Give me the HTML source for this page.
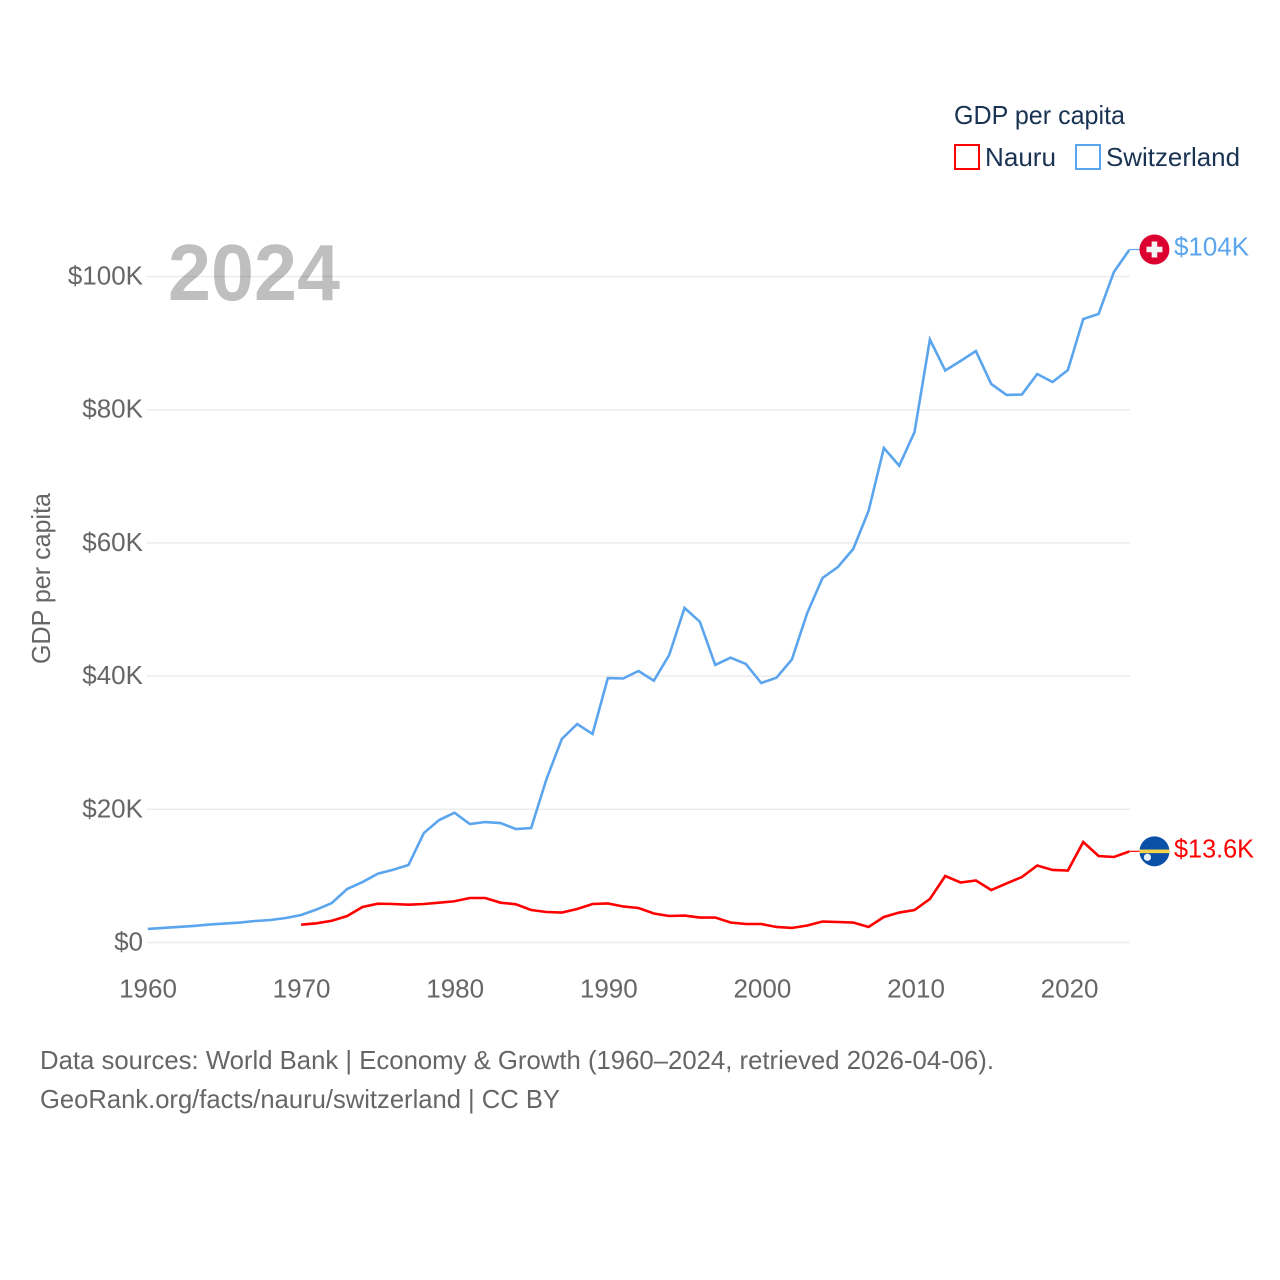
<!DOCTYPE html>
<html lang="en">
<head>
<meta charset="utf-8">
<title>GDP per capita: Nauru and Switzerland</title>
<style>
html,body{margin:0;padding:0;background:#fff;}
svg{display:block;}
text{font-family:"Liberation Sans",sans-serif;}
</style>
</head>
<body>
<svg id="chart" xmlns="http://www.w3.org/2000/svg" width="1280" height="1280" viewBox="0 0 1280 1280">
  <rect x="0" y="0" width="1280" height="1280" fill="#fff"/>
  <g id="grid"></g>
  <g id="yticks"></g>
  <g id="xticks"></g>
  <text transform="translate(50,578.5) rotate(-90)" text-anchor="middle" font-size="26" fill="#666" textLength="171" lengthAdjust="spacingAndGlyphs">GDP per capita</text>
  <text x="168" y="300" font-size="80" font-weight="700" fill="#000" fill-opacity="0.25" textLength="172" lengthAdjust="spacingAndGlyphs">2024</text>
  <g id="series"></g>
  <g id="ends"></g>

  <text x="954" y="124" font-size="26" fill="#1a3353" textLength="171" lengthAdjust="spacingAndGlyphs">GDP per capita</text>
  <g>
    <rect x="955" y="145" width="24" height="24" fill="none" stroke="#ff0000" stroke-width="2"/>
    <text x="985" y="166" font-size="26" fill="#1a3353" textLength="71" lengthAdjust="spacingAndGlyphs">Nauru</text>
  </g>
  <g>
    <rect x="1076" y="145" width="24" height="24" fill="none" stroke="#5ba5ee" stroke-width="2"/>
    <text x="1106" y="166" font-size="26" fill="#1a3353" textLength="134" lengthAdjust="spacingAndGlyphs">Switzerland</text>
  </g>

  <text x="40" y="1069" font-size="26" fill="#666" textLength="954" lengthAdjust="spacingAndGlyphs">Data sources: World Bank | Economy &amp; Growth (1960–2024, retrieved 2026-04-06).</text>
  <text x="40" y="1108" font-size="26" fill="#666" textLength="520" lengthAdjust="spacingAndGlyphs">GeoRank.org/facts/nauru/switzerland | CC BY</text>
</svg>
<script>
const yTickValues = [0, 20, 40, 60, 80, 100];
const yTickLabels = ["$0", "$20K", "$40K", "$60K", "$80K", "$100K"];
const xTickYears = [1960, 1970, 1980, 1990, 2000, 2010, 2020];
const switzerlandStart = 1960;
const switzerlandValues = [2.03,2.18,2.33,2.48,2.70,2.85,3.00,3.23,3.38,3.68,4.13,4.95,5.93,8.03,9.08,10.33,10.93,11.64,16.44,18.39,19.49,17.79,18.09,17.94,17.04,17.19,24.55,30.56,32.81,31.31,39.71,39.64,40.77,39.31,43.17,50.23,48.17,41.67,42.76,41.82,38.96,39.76,42.49,49.47,54.73,56.38,59.08,64.79,74.25,71.59,76.65,90.54,85.89,87.31,88.81,83.86,82.21,82.28,85.36,84.16,85.96,93.62,94.37,100.68,103.98];
const nauruStart = 1970;
const nauruValues = [2.67,2.88,3.27,3.98,5.33,5.83,5.78,5.68,5.78,5.98,6.19,6.68,6.68,5.98,5.74,4.88,4.58,4.50,5.03,5.78,5.86,5.41,5.18,4.35,3.98,4.05,3.75,3.75,3.00,2.78,2.78,2.33,2.18,2.55,3.15,3.08,3.00,2.33,3.83,4.50,4.88,6.53,9.98,9.01,9.31,7.88,8.86,9.83,11.56,10.89,10.81,15.09,12.99,12.84,13.66];
const switzerlandEndLabel = "$104K";
const nauruEndLabel = "$13.6K";

const NS = "http://www.w3.org/2000/svg";
const xAxis = function (year) { return 147.8 + (year - 1960) * 15.335; };
const xLabelAxis = function (year) { return 148 + (year - 1960) * 15.36; };
const yAxis = function (k) { return 942.5 - k * 6.66; };
const plotRight = 1130;

function make(tag, attrs, parent, text) {
  const el = document.createElementNS(NS, tag);
  for (const key in attrs) el.setAttribute(key, attrs[key]);
  if (text !== undefined) el.textContent = text;
  parent.appendChild(el);
  return el;
}

const gridGroup = document.getElementById("grid");
const yGroup = document.getElementById("yticks");
const xGroup = document.getElementById("xticks");
const seriesGroup = document.getElementById("series");
const endsGroup = document.getElementById("ends");

yTickValues.forEach(function (v, i) {
  const line = make("line", {x1: 147, x2: plotRight, y1: yAxis(v), y2: yAxis(v), stroke: "#ececec", "stroke-width": 1.5}, gridGroup);
  
  
  const label = make("text", {x: 143, y: yAxis(v) + 8, "text-anchor": "end", "font-size": 26, fill: "#666"}, yGroup, yTickLabels[i]);
  
  
});

xTickYears.forEach(function (year) {
  const label = make("text", {x: xLabelAxis(year), y: 997.5, "text-anchor": "middle", "font-size": 26, fill: "#666"}, xGroup, String(year));
  
  
});

function pointsFor(values, startYear) {
  return values.map(function (v, i) {
    return xAxis(startYear + i).toFixed(2) + "," + yAxis(v).toFixed(2);
  }).join(" ");
}

const swissLine = make("polyline", {points: pointsFor(switzerlandValues, switzerlandStart), fill: "none", stroke: "#5ba5ee", "stroke-width": 2.6, "stroke-linejoin": "miter"}, seriesGroup);



const nauruLine = make("polyline", {points: pointsFor(nauruValues, nauruStart), fill: "none", stroke: "#ff0000", "stroke-width": 2.6, "stroke-linejoin": "miter"}, seriesGroup);



const endX = xAxis(2024);
const flagX = endX + 25.2;
const swissY = yAxis(switzerlandValues[switzerlandValues.length - 1]) - 0.5;
const nauruY = yAxis(nauruValues[nauruValues.length - 1]) - 0.2;

const swissConnector = make("line", {x1: endX, x2: flagX - 14, y1: swissY, y2: swissY, stroke: "#5ba5ee", "stroke-width": 1.2}, endsGroup);



const nauruConnector = make("line", {x1: endX, x2: flagX - 14, y1: nauruY, y2: nauruY, stroke: "#ff0000", "stroke-width": 1.2}, endsGroup);



const swissFlag = make("g", {transform: "translate(" + flagX + "," + swissY + ")"}, endsGroup);


make("circle", {cx: 0, cy: 0, r: 15, fill: "#dc0030"}, swissFlag);
make("rect", {x: -8, y: -2.8, width: 16, height: 5.6, fill: "#f4f4f4"}, swissFlag);
make("rect", {x: -2.8, y: -8, width: 5.6, height: 16, fill: "#f4f4f4"}, swissFlag);

const nauruFlag = make("g", {transform: "translate(" + flagX + "," + nauruY + ")"}, endsGroup);


make("circle", {cx: 0, cy: 0, r: 15, fill: "#0a4fa8"}, nauruFlag);
make("rect", {x: -15, y: -1.8, width: 30, height: 3.6, fill: "#f7d24a"}, nauruFlag);
make("circle", {cx: -7, cy: 6, r: 3.6, fill: "#e8eff8"}, nauruFlag);

const swissLabel = make("text", {x: 1174, y: swissY + 6, "font-size": 26, fill: "#5ba5ee", textLength: 75, lengthAdjust: "spacingAndGlyphs"}, endsGroup, switzerlandEndLabel);



const nauruLabel = make("text", {x: 1174, y: nauruY + 6, "font-size": 26, fill: "#ff0000", textLength: 80, lengthAdjust: "spacingAndGlyphs"}, endsGroup, nauruEndLabel);


</script>
</body>
</html>
